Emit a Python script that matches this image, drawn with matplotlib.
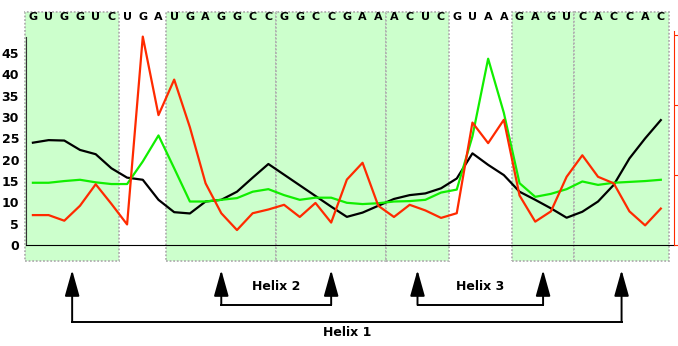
import numpy as np
import matplotlib.pyplot as plt
import matplotlib.transforms as mtransforms

# sequence along the x axis
sequence = list("GUGGUCUGAUGAGGCCGGCCGAAACUCGUAAGAGUCACCAC")

# left axis series
black_vals = [24.0, 24.6, 24.5, 22.3, 21.3, 18.0, 15.8, 15.3, 10.6, 7.7,
              7.4, 10.2, 10.6, 12.5, 15.8, 19.0, 16.5, 14.0, 11.5, 9.0,
              6.6, 7.6, 9.2, 10.8, 11.7, 12.1, 13.3, 15.6, 21.5, 18.8,
              16.4, 12.5, 10.6, 8.6, 6.4, 7.8, 10.2, 14.1, 20.3, 25.0, 29.3]
green_vals = [14.6, 14.6, 15.0, 15.3, 14.7, 14.3, 14.3, 19.6, 25.7, 18.0,
              10.2, 10.2, 10.6, 11.0, 12.5, 13.1, 11.7, 10.6, 11.1, 11.1,
              9.9, 9.6, 9.8, 10.2, 10.3, 10.6, 12.3, 13.0, 25.5, 43.7,
              31.0, 14.5, 11.3, 12.0, 13.1, 14.9, 14.1, 14.6, 14.8, 15.0, 15.3]

# right axis series
red_vals = [0.32, 0.32, 0.26, 0.42, 0.65, 0.44, 0.22, 2.23, 1.39, 1.77,
            1.26, 0.66, 0.34, 0.16, 0.34, 0.38, 0.43, 0.30, 0.45, 0.24,
            0.70, 0.88, 0.42, 0.30, 0.43, 0.37, 0.29, 0.34, 1.31, 1.09,
            1.34, 0.53, 0.25, 0.36, 0.73, 0.96, 0.73, 0.66, 0.36, 0.21, 0.39]

left_ticks = [0, 5, 10, 15, 20, 25, 30, 35, 40, 45]
right_ticks = [0, 0.75, 1.5, 2.25]

# helix segments (first, last nucleotide index)
segments = [(0, 5), (9, 15), (16, 22), (23, 26), (31, 34), (35, 40)]
# helix pairs: (label, left segment, right segment, bracket level)
helices = [("Helix 1", 0, 5, -0.36), ("Helix 2", 1, 2, -0.28), ("Helix 3", 3, 4, -0.28)]

fig = plt.figure(figsize=(6.78, 3.46), dpi=100)
ax = fig.add_axes([26 / 678, 101 / 346, 648 / 678, 214 / 346])
ax2 = ax.twinx()

x = np.arange(len(sequence))
ax.set_xlim(-0.44, 40.84)
ax.set_ylim(0, 50.2)
ax2.set_ylim(0, 2.29)

trans = mtransforms.blended_transform_factory(ax.transData, ax.transAxes)

# shaded helix regions
for a, b in segments:
    r = plt.Rectangle((a - 0.5, -0.075), b - a + 1, 1.164, transform=trans,
                      facecolor="#ccffcc", edgecolor="#b0b0b0", linestyle=(0, (1, 1)),
                      lw=1.3, clip_on=False, zorder=0)
    ax.add_patch(r)

# sequence letters
for i, s in enumerate(sequence):
    ax.text(i, 1.065, s, transform=trans, ha="center", va="center",
            fontsize=8, fontweight="bold", color="black")

ax.plot(x, black_vals, color="black", lw=1.6, zorder=3)
ax.plot(x, green_vals, color="#11ee00", lw=1.6, zorder=3)
ax2.plot(x, red_vals, color="#ff2a00", lw=1.6, zorder=3)

ax.patch.set_visible(False)
ax2.patch.set_visible(False)
ax.set_zorder(2)
ax2.set_zorder(3)

for sp in ["top", "right"]:
    ax.spines[sp].set_visible(False)
ax.spines["left"].set_bounds(0, 48.8)
ax.spines["left"].set_color("#333333")
ax.spines["bottom"].set_color("black")
ax.set_xticks([])
ax.set_yticks(left_ticks)
ax.tick_params(axis="y", length=0, pad=5)
for lab in ax.get_yticklabels():
    lab.set_fontweight("bold")
    lab.set_fontsize(9)

for sp in ["top", "left", "bottom"]:
    ax2.spines[sp].set_visible(False)
ax2.spines["right"].set_color("#ff2a00")
ax2.set_yticks(right_ticks)
ax2.tick_params(axis="y", colors="#ff2a00", length=3, pad=1, labelsize=9)
for lab in ax2.get_yticklabels():
    lab.set_fontweight("bold")

# helix brackets with arrows
tip = -0.117
centers = [(a + b) / 2 for a, b in segments]
for label, s1, s2, level in helices:
    x1, x2 = centers[s1], centers[s2]
    ax.plot([x1, x2], [level, level], color="black", lw=1.4, transform=trans, clip_on=False)
    for xc in (x1, x2):
        ax.annotate("", xy=(xc, tip), xytext=(xc, level), xycoords=trans, textcoords=trans,
                    arrowprops=dict(arrowstyle="-|>,head_length=1.6,head_width=0.45",
                                    color="black", lw=1.4, shrinkA=0, shrinkB=0))
    if level < -0.3:
        ax.text((x1 + x2) / 2, -0.41, label, transform=trans, ha="center", va="center",
                fontsize=9, fontweight="bold")
    else:
        ax.text((x1 + x2) / 2, -0.192, label, transform=trans, ha="center", va="center",
                fontsize=9, fontweight="bold")

fig.savefig("out.png", dpi=100)
